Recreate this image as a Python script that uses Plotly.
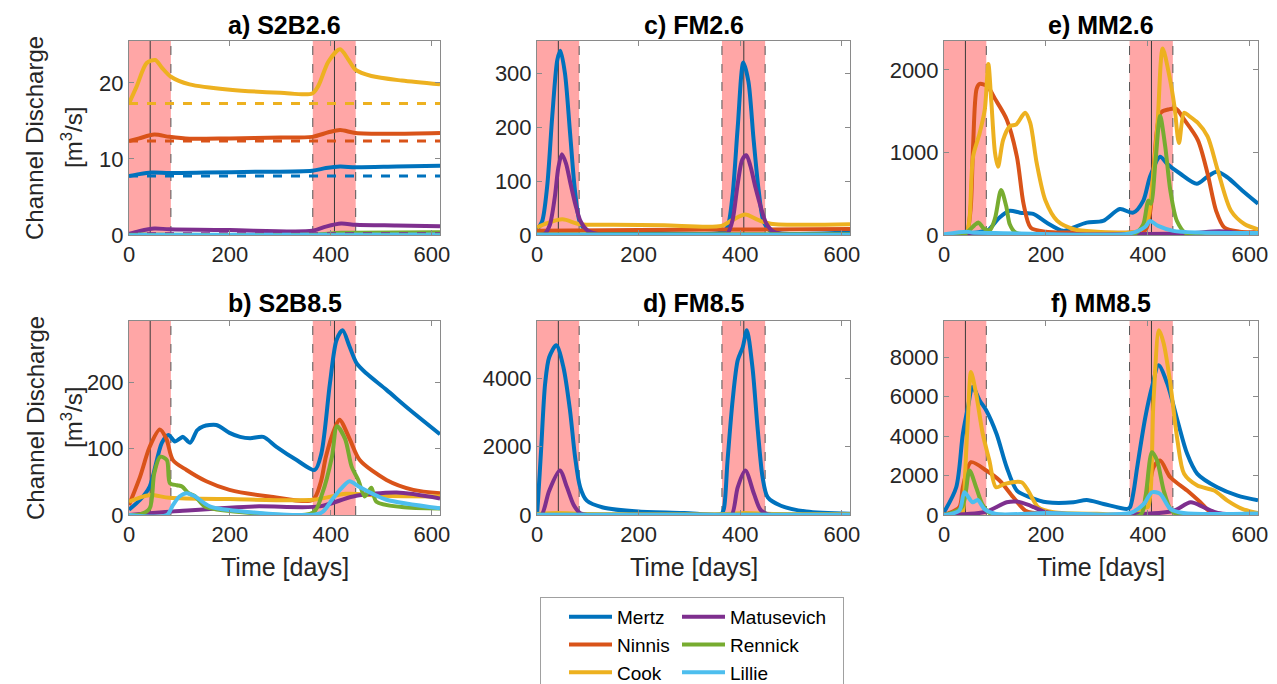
import plotly.graph_objects as go

# ---- river names and colours ----
RIVERS = ["Mertz", "Ninnis", "Cook", "Matusevich", "Rennick", "Lillie"]
COLORS = ["#0072BD", "#D95319", "#EDB120", "#7E2F8E", "#77AC30", "#4DBEEE"]
GROUPS = ["g1", "g1", "g1", "g2", "g2", "g2"]
LEGEND_WIDTHS = {"g1": 31, "g2": 108}

PANEL_TITLES = ["a) S2B2.6", "c) FM2.6", "e) MM2.6", "b) S2B8.5", "d) FM8.5", "f) MM8.5"]
X_TICKS = [0, 200, 400, 600]
Y_TICKS = [[0, 10, 20], [0, 100, 200, 300], [0, 1000, 2000],
           [0, 100, 200], [0, 2000, 4000], [0, 2000, 4000, 6000, 8000]]
Y_MAX = [25.5, 360, 2350, 293, 5670, 9830]
X_MAX = 616

# melt-season windows (days) and their mid-points
MELT_WINDOWS = [(0, 83), (364, 449)]
MELT_MIDS = [42, 407]

# ---- a) S2B2.6 : (day, discharge m3/s) ----
s2b26_mertz = [(0, 7.75), (20, 8.0), (45, 8.2), (80, 8.15), (150, 8.2), (250, 8.3), (363, 8.45),
               (390, 8.8), (418, 9.0), (449, 8.9), (530, 9.0), (616, 9.1)]
s2b26_ninnis = [(0, 12.35), (20, 12.7), (50, 13.2), (80, 12.9), (120, 12.65), (200, 12.7), (300, 12.8),
                (363, 12.9), (395, 13.5), (418, 13.8), (449, 13.4), (520, 13.3), (616, 13.4)]
s2b26_cook = [(0, 17.3), (15, 19.5), (35, 22.6), (52, 23.0), (65, 22.0), (83, 20.8), (120, 19.8),
              (200, 19.1), (300, 18.7), (363, 18.6), (375, 19.6), (395, 22.8), (418, 24.4), (435, 23.0),
              (449, 21.7), (480, 20.9), (540, 20.3), (616, 19.8)]
s2b26_matusevich = [(0, 0.15), (20, 0.5), (50, 0.85), (80, 0.75), (200, 0.65), (363, 0.55), (390, 1.1),
                    (420, 1.5), (449, 1.35), (530, 1.25), (616, 1.15)]
s2b26_rennick = [(0, 0.05), (363, 0.05), (420, 0.3), (449, 0.3), (616, 0.35)]
s2b26_lillie = [(0, 0.02), (616, 0.05)]
# present-day reference discharge (dashed)
s2b26_baseline = [7.75, 12.35, 17.3, 0.15, 0.05, 0.02]

# ---- c) FM2.6 ----
fm26_mertz = [(0, 10), (10, 25), (20, 90), (30, 220), (40, 325), (46, 342), (55, 300), (65, 190),
              (75, 80), (85, 22), (100, 7), (200, 5), (365, 5), (375, 15), (385, 75), (395, 200),
              (406, 320), (416, 285), (426, 180), (436, 85), (446, 25), (460, 7), (616, 5)]
fm26_ninnis = [(0, 8), (200, 9.5), (363, 10), (616, 11)]
fm26_cook = [(0, 14), (20, 22), (50, 29), (85, 20), (150, 19), (250, 18), (363, 17), (385, 28),
             (410, 38), (435, 28), (460, 21), (616, 20)]
fm26_matusevich = [(0, 0), (15, 2), (25, 18), (35, 70), (42, 125), (49, 150), (57, 133), (66, 95),
                   (76, 55), (86, 25), (100, 8), (125, 1), (200, 0), (365, 0), (375, 3), (385, 28),
                   (395, 95), (404, 140), (412, 148), (420, 128), (430, 88), (441, 50), (451, 22),
                   (466, 6), (490, 1), (616, 0)]
fm26_rennick = [(0, 1), (616, 1.5)]
fm26_lillie = [(0, 0.5), (616, 0.5)]

# ---- e) MM2.6 ----
mm26_mertz = [(0, 0), (40, 10), (80, 50), (87, 60), (109, 212), (129, 294), (149, 270), (175, 255),
              (201, 151), (234, 50), (253, 90), (280, 150), (312, 170), (345, 314), (371, 270),
              (391, 417), (404, 703), (424, 949), (437, 867), (463, 745), (496, 621), (516, 703),
              (535, 765), (555, 703), (585, 540), (616, 380)]
mm26_ninnis = [(0, 0), (30, 5), (44, 20), (52, 300), (57, 1070), (64, 1770), (70, 1830), (85, 1800),
               (100, 1650), (123, 1400), (143, 950), (156, 380), (170, 90), (200, 40), (300, 30),
               (365, 30), (395, 60), (405, 300), (412, 870), (425, 1480), (440, 1520), (455, 1530),
               (471, 1400), (498, 1150), (517, 745), (534, 290), (550, 90), (580, 40), (616, 35)]
mm26_cook = [(0, 0), (30, 5), (44, 20), (50, 200), (57, 950), (70, 1235), (80, 1520), (87, 2070),
             (93, 1600), (100, 1000), (106, 826), (116, 1153), (129, 1316), (142, 1340), (159, 1480),
             (169, 1360), (182, 867), (199, 417), (222, 172), (255, 70), (300, 40), (365, 30),
             (385, 60), (400, 200), (410, 700), (419, 1358), (429, 2258), (442, 1930), (452, 1562),
             (461, 1113), (471, 1481), (481, 1440), (498, 1358), (517, 1194), (537, 785), (563, 294),
             (590, 131), (616, 70)]
mm26_matusevich = [(0, 0), (300, 5), (480, 20), (540, 45), (580, 25), (616, 15)]
mm26_rennick = [(0, 0), (40, 10), (50, 60), (60, 120), (68, 150), (78, 80), (90, 60), (100, 200),
                (112, 545), (122, 350), (129, 130), (140, 30), (160, 5), (365, 0), (380, 40),
                (391, 130), (401, 417), (406, 380), (415, 900), (424, 1440), (434, 1071), (444, 540),
                (457, 170), (475, 20), (616, 0)]
mm26_lillie = [(0, 10), (45, 40), (55, 30), (100, 25), (365, 20), (395, 100), (404, 170), (420, 110),
               (450, 50), (500, 30), (616, 25)]

# ---- b) S2B8.5 ----
s2b85_mertz = [(0, 8), (22, 23), (41, 43), (65, 109), (78, 121), (91, 111), (100, 115), (107, 118),
               (121, 109), (135, 128), (147, 134), (173, 136), (199, 124), (220, 118), (240, 116),
               (266, 118), (292, 103), (332, 83), (368, 68), (381, 93), (398, 199), (411, 264),
               (423, 279), (437, 254), (451, 229), (470, 214), (510, 189), (556, 159), (616, 122)]
s2b85_ninnis = [(0, 15), (22, 58), (41, 103), (61, 129), (74, 115), (87, 83), (114, 68), (153, 51),
                (199, 38), (278, 28), (364, 23), (380, 50), (390, 88), (407, 130), (417, 144),
                (437, 115), (457, 83), (510, 53), (563, 38), (616, 33)]
s2b85_cook = [(0, 20), (40, 30), (80, 26), (200, 24), (365, 23), (430, 32), (500, 29), (616, 28)]
s2b85_matusevich = [(0, 0), (100, 6), (248, 13), (378, 13), (444, 28), (530, 34), (616, 25)]
s2b85_rennick = [(0, 0), (22, 1), (41, 10), (50, 63), (62, 88), (75, 83), (81, 48), (95, 45),
                 (105, 43), (118, 33), (131, 28), (150, 13), (200, 6), (365, 4), (383, 33), (402, 88),
                 (412, 134), (428, 115), (441, 73), (454, 53), (467, 28), (480, 41), (490, 20),
                 (540, 12), (616, 10)]
s2b85_lillie = [(0, 0), (75, 0), (87, 15), (100, 28), (114, 33), (131, 28), (160, 13), (230, 5),
                (380, 3), (402, 23), (420, 40), (437, 51), (455, 43), (480, 33), (510, 23), (616, 10)]

# ---- d) FM8.5 ----
fm85_mertz = [(0, 0), (2, 420), (8, 1880), (16, 3840), (24, 4610), (38, 4960), (52, 4320), (65, 3050),
              (75, 1690), (85, 810), (98, 420), (130, 220), (200, 100), (290, 60), (363, 30),
              (368, 200), (375, 1590), (385, 3350), (395, 4520), (405, 4910), (413, 5400), (424, 4320),
              (434, 2565), (444, 1100), (454, 520), (480, 270), (530, 100), (616, 40)]
fm85_ninnis = [(0, 10), (616, 10)]
fm85_cook = [(0, 30), (40, 60), (100, 30), (365, 25), (410, 60), (470, 30), (616, 25)]
fm85_matusevich = [(0, 0), (9, 0), (24, 710), (45, 1300), (59, 810), (72, 300), (85, 50), (100, 0),
                   (370, 0), (383, 0), (395, 810), (410, 1300), (427, 620), (440, 150), (455, 20),
                   (616, 0)]
fm85_rennick = [(0, 5), (616, 5)]
fm85_lillie = [(0, 5), (616, 5)]

# ---- f) MM8.5 ----
mm85_mertz = [(0, 140), (24, 1406), (37, 4117), (47, 5467), (56, 6482), (70, 5807), (83, 5299),
              (103, 4117), (123, 2421), (143, 1239), (169, 898), (202, 645), (254, 645), (280, 765),
              (313, 560), (359, 310), (365, 400), (372, 1200), (379, 2421), (395, 4960), (408, 6482),
              (421, 7584), (438, 6655), (458, 4792), (477, 3101), (497, 2086), (536, 1406), (576, 985),
              (616, 750)]
mm85_ninnis = [(0, 0), (30, 390), (37, 1406), (53, 2675), (83, 2254), (109, 1746), (136, 898),
               (160, 220), (200, 50), (365, 50), (395, 645), (411, 2421), (424, 2761), (444, 1912),
               (477, 1239), (503, 645), (525, 120), (616, 50)]
mm85_cook = [(0, 0), (35, 50), (38, 300), (42, 2400), (47, 4960), (53, 7245), (63, 6144), (76, 4117),
             (89, 2761), (102, 1406), (119, 1578), (152, 1660), (165, 1239), (185, 392), (215, 140),
             (300, 60), (365, 50), (392, 390), (400, 400), (411, 5807), (422, 9360), (431, 8685),
             (444, 6655), (458, 3777), (471, 2086), (497, 1492), (530, 1239), (556, 729), (585, 310),
             (616, 100)]
mm85_matusevich = [(0, 0), (80, 150), (123, 645), (143, 680), (169, 480), (200, 140), (260, 30),
                   (365, 20), (449, 200), (484, 645), (510, 390), (537, 100), (616, 20)]
mm85_rennick = [(0, 0), (35, 390), (50, 2254), (63, 1406), (75, 560), (90, 80), (120, 0), (385, 0),
                (395, 898), (408, 3185), (418, 2761), (431, 1239), (444, 310), (460, 0), (616, 0)]
mm85_lillie = [(0, 0), (30, 220), (40, 1152), (56, 645), (66, 765), (79, 310), (100, 60), (200, 100),
               (365, 100), (392, 560), (408, 1152), (424, 1070), (444, 310), (470, 100), (616, 80)]

PANELS = [
    [s2b26_mertz, s2b26_ninnis, s2b26_cook, s2b26_matusevich, s2b26_rennick, s2b26_lillie],
    [fm26_mertz, fm26_ninnis, fm26_cook, fm26_matusevich, fm26_rennick, fm26_lillie],
    [mm26_mertz, mm26_ninnis, mm26_cook, mm26_matusevich, mm26_rennick, mm26_lillie],
    [s2b85_mertz, s2b85_ninnis, s2b85_cook, s2b85_matusevich, s2b85_rennick, s2b85_lillie],
    [fm85_mertz, fm85_ninnis, fm85_cook, fm85_matusevich, fm85_rennick, fm85_lillie],
    [mm85_mertz, mm85_ninnis, mm85_cook, mm85_matusevich, mm85_rennick, mm85_lillie],
]

# ---- layout geometry (pixels of a 1277 x 684 page) ----
W, H = 1277, 684
COL_PX = [(129, 440), (537, 850), (944, 1258)]
ROW_PX = [(41, 235), (321, 515)]
FONT = "Liberation Sans, Arial, Helvetica, sans-serif"
AXIS_GREY = "#8a8a8a"
TEXT = "#262626"


def px_x(p):
    return p / W


def px_y(p):
    return 1 - p / H


fig = go.Figure()
layout = dict(
    width=W, height=H, margin=dict(l=0, r=0, t=0, b=0, autoexpand=False),
    paper_bgcolor="white", plot_bgcolor="white",
    font=dict(family=FONT, color=TEXT),
    showlegend=True,
)
shapes = []
annotations = []

for i in range(6):
    row, col = divmod(i, 3)
    n = i + 1
    xa = "xaxis" if n == 1 else f"xaxis{n}"
    ya = "yaxis" if n == 1 else f"yaxis{n}"
    xr = "x" if n == 1 else f"x{n}"
    yr = "y" if n == 1 else f"y{n}"
    c0, c1 = COL_PX[col]
    r0, r1 = ROW_PX[row]
    layout[xa] = dict(
        domain=[px_x(c0), px_x(c1)], anchor=yr, range=[0, X_MAX],
        tickvals=X_TICKS, ticks="inside", ticklen=5, tickcolor=AXIS_GREY,
        showline=True, linecolor=AXIS_GREY, linewidth=1, mirror="allticks",
        showgrid=False, zeroline=False, tickfont=dict(size=22, color=TEXT),
    )
    layout[ya] = dict(
        domain=[px_y(r1), px_y(r0)], anchor=xr, range=[0, Y_MAX[i]],
        tickvals=Y_TICKS[i], ticks="inside", ticklen=5, tickcolor=AXIS_GREY,
        showline=True, linecolor=AXIS_GREY, linewidth=1, mirror="allticks",
        showgrid=False, zeroline=False, tickfont=dict(size=22, color=TEXT),
    )

    # melt season shading and markers
    for (d0, d1), mid in zip(MELT_WINDOWS, MELT_MIDS):
        shapes.append(dict(type="rect", xref=xr, yref=f"{yr} domain", x0=d0, x1=d1, y0=0, y1=1,
                           fillcolor="rgba(255,0,0,0.35)", line=dict(width=0), layer="below"))
        shapes.append(dict(type="line", xref=xr, yref=f"{yr} domain", x0=mid, x1=mid, y0=0, y1=1,
                           line=dict(color="#3a3a3a", width=1), layer="below"))
        for edge in (d0, d1):
            if edge > 0:
                shapes.append(dict(type="line", xref=xr, yref=f"{yr} domain", x0=edge, x1=edge,
                                   y0=0, y1=1, line=dict(color="#555555", width=1, dash="dash"),
                                   layer="below"))

    for k, series in enumerate(PANELS[i]):
        days = [p[0] for p in series]
        flow = [p[1] for p in series]
        fig.add_trace(go.Scatter(
            x=days, y=flow, mode="lines", name=RIVERS[k],
            line=dict(color=COLORS[k], width=4, shape="spline", smoothing=0.8),
            legendgroup=GROUPS[k], showlegend=(i == 0),
            legendwidth=LEGEND_WIDTHS[GROUPS[k]],
            xaxis=xr, yaxis=yr, hoverinfo="skip",
        ))

    if i == 0:
        for k, base in enumerate(s2b26_baseline):
            fig.add_trace(go.Scatter(
                x=[0, X_MAX], y=[base, base], mode="lines",
                line=dict(color=COLORS[k], width=3, dash="dash"),
                showlegend=False, xaxis=xr, yaxis=yr, hoverinfo="skip",
            ))

    # panel title
    annotations.append(dict(
        text=f"<b>{PANEL_TITLES[i]}</b>", xref="paper", yref="paper",
        x=px_x((c0 + c1) / 2), y=px_y(25 if row == 0 else 303),
        xanchor="center", yanchor="middle", showarrow=False,
        font=dict(size=25, color="black"),
    ))
    if row == 1:
        annotations.append(dict(
            text="Time [days]", xref="paper", yref="paper",
            x=px_x((c0 + c1) / 2), y=px_y(567), xanchor="center", yanchor="middle",
            showarrow=False, font=dict(size=25, color=TEXT),
        ))
    if col == 0:
        annotations.append(dict(
            text="Channel Discharge", xref="paper", yref="paper",
            x=px_x(35), y=px_y((r0 + r1) / 2), xanchor="center", yanchor="middle",
            textangle=-90, showarrow=False, font=dict(size=24, color=TEXT),
        ))
        annotations.append(dict(
            text="[m<sup>3</sup>/s]", xref="paper", yref="paper",
            x=px_x(72), y=px_y((r0 + r1) / 2), xanchor="center", yanchor="middle",
            textangle=-90, showarrow=False, font=dict(size=24, color=TEXT),
        ))

layout["shapes"] = shapes
layout["annotations"] = annotations
layout["legend"] = dict(
    orientation="h", traceorder="grouped", x=px_x(540), y=px_y(597),
    xanchor="left", yanchor="top", bordercolor="#a0a0a0", borderwidth=1,
    bgcolor="white", font=dict(size=19, color="black"), tracegroupgap=0,
    indentation=24, itemwidth=43,
)
fig.update_layout(**layout)
fig.write_html("out.html")
